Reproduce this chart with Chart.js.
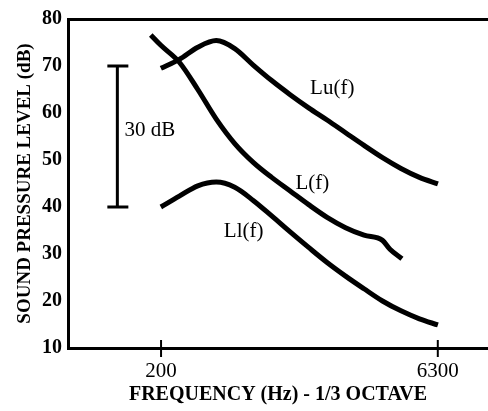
<!DOCTYPE html>
<html>
<head>
<meta charset="utf-8">
<script src="https://cdn.jsdelivr.net/npm/chart.js@4.4.0/dist/chart.umd.min.js"></script>
<style>
    html, body { margin: 0; padding: 0; background: #fff; }
    #wrap { width: 488px; height: 411px; }
</style>
</head>
<body>
<div id="wrap"><canvas id="chart"></canvas></div>
<script>
// 1/3 octave band centres (exact), 200 Hz .. 6300 Hz
const bandFreqs = [199.5, 251.2, 316.2, 398.1, 501.2, 631.0, 794.3, 1000, 1259, 1585, 1995, 2512, 3162, 3981, 5012, 6310];
const luValues = [69.5, 71.4, 74.0, 75.4, 73.7, 70.2, 66.9, 63.9, 61.1, 58.5, 55.8, 53.1, 50.5, 48.2, 46.3, 44.9];
const llValues = [40.0, 42.3, 44.5, 45.3, 44.2, 41.4, 38.1, 34.7, 31.4, 28.2, 25.3, 22.6, 20.0, 17.9, 16.2, 14.9];
const lFreqs = [176, 199.5, 251.2, 316.2, 398.1, 501.2, 631.0, 794.3, 1000, 1259, 1585, 1995, 2512, 3162, 3470, 4030];
const lValues = [76.6, 74.4, 70.8, 65.0, 58.7, 53.5, 49.5, 46.3, 43.4, 40.5, 37.8, 35.6, 34.0, 32.9, 31.0, 29.0];

const xTickValues = [200, 6300];
const yTickValues = [10, 20, 30, 40, 50, 60, 70, 80];

// curve names and where they are written (freq, dB)
const curveLabels = ['Lu(f)', 'L(f)', 'Ll(f)'];
const curveLabelFreqs = [1690, 1320, 560];
const curveLabelLevels = [65.2, 44.9, 34.8];

// the "30 dB" scale bar
const scaleBarFreq = 116;
const scaleBarRange = [40, 70];
const scaleBarText = '30 dB';
const scaleBarTextFreq = 127;
const scaleBarTextLevel = 56.2;

const serif = '"Liberation Serif", "DejaVu Serif", serif';

function toPoints(xs, ys) {
    return xs.map((x, i) => ({ x: x, y: ys[i] }));
}

function curve(data) {
    return {
        data: data,
        borderColor: '#000',
        borderWidth: 5,
        pointRadius: 0,
        cubicInterpolationMode: 'monotone',
        fill: false,
        borderCapStyle: 'butt',
        borderJoinStyle: 'round'
    };
}

const annotations = {
    id: 'annotations',
    afterDatasetsDraw(chart) {
        const ctx = chart.ctx;
        const x = chart.scales.x;
        const y = chart.scales.y;
        const area = chart.chartArea;

        ctx.save();
        ctx.strokeStyle = '#000';
        ctx.fillStyle = '#000';

        // tick marks crossing the frequency axis
        ctx.lineWidth = 2;
        xTickValues.forEach(v => {
            const px = x.getPixelForValue(v);
            ctx.beginPath();
            ctx.moveTo(px, area.bottom - 8);
            ctx.lineTo(px, area.bottom + 9);
            ctx.stroke();
        });

        // scale bar
        const bx = x.getPixelForValue(scaleBarFreq);
        const by1 = y.getPixelForValue(scaleBarRange[1]);
        const by0 = y.getPixelForValue(scaleBarRange[0]);
        ctx.lineWidth = 3;
        ctx.beginPath();
        ctx.moveTo(bx, by1);
        ctx.lineTo(bx, by0);
        ctx.moveTo(bx - 10, by1);
        ctx.lineTo(bx + 11, by1);
        ctx.moveTo(bx - 10, by0);
        ctx.lineTo(bx + 11, by0);
        ctx.stroke();

        ctx.font = '21px ' + serif;
        ctx.textBaseline = 'middle';
        ctx.textAlign = 'left';
        ctx.fillText(scaleBarText, x.getPixelForValue(scaleBarTextFreq), y.getPixelForValue(scaleBarTextLevel));

        ctx.textAlign = 'center';
        curveLabels.forEach((t, i) => {
            ctx.fillText(t, x.getPixelForValue(curveLabelFreqs[i]), y.getPixelForValue(curveLabelLevels[i]));
        });
        ctx.restore();
    }
};

new Chart(document.getElementById('chart'), {
    type: 'line',
    data: {
        datasets: [
            curve(toPoints(bandFreqs, luValues)),
            curve(toPoints(lFreqs, lValues)),
            curve(toPoints(bandFreqs, llValues))
        ]
    },
    options: {
        responsive: true,
        maintainAspectRatio: false,
        animation: false,
        layout: { padding: { top: 19, left: 14, right: 0, bottom: 0 } },
        plugins: {
            legend: { display: false },
            tooltip: { enabled: false }
        },
        scales: {
            x: {
                type: 'logarithmic',
                position: 'bottom',
                min: 62.7,
                max: 11780,
                afterBuildTicks: (axis) => {
                    axis.ticks = xTickValues.map(v => ({ value: v }));
                },
                afterFit: (axis) => { axis.height = 63; },
                grid: { display: false },
                border: { display: true, color: '#000', width: 3 },
                ticks: {
                    color: '#000',
                    padding: 3,
                    maxRotation: 0,
                    autoSkip: false,
                    font: { family: serif, size: 21 },
                    callback: (value) => String(value)
                },
                title: {
                    display: true,
                    text: 'FREQUENCY (Hz) - 1/3 OCTAVE',
                    color: '#000',
                    padding: { top: 8 },
                    font: { family: serif, size: 20, weight: 'bold' }
                }
            },
            xTop: {
                type: 'logarithmic',
                position: 'top',
                min: 62.7,
                max: 11780,
                afterFit: (axis) => { axis.height = 0; },
                grid: { display: false },
                border: { display: true, color: '#000', width: 3 },
                ticks: { display: false }
            },
            y: {
                min: 10,
                max: 80,
                afterBuildTicks: (axis) => {
                    axis.ticks = yTickValues.map(v => ({ value: v }));
                },
                afterFit: (axis) => { axis.width = 54; },
                grid: { display: false, drawTicks: false },
                border: { display: true, color: '#000', width: 3 },
                ticks: {
                    color: '#000',
                    padding: 6,
                    font: { family: serif, size: 20, weight: 'bold' }
                },
                title: {
                    display: true,
                    text: 'SOUND PRESSURE LEVEL (dB)',
                    color: '#000',
                    padding: 0,
                    font: { family: serif, size: 19, weight: 'bold' }
                }
            }
        }
    },
    plugins: [annotations]
});
</script>
</body>
</html>
